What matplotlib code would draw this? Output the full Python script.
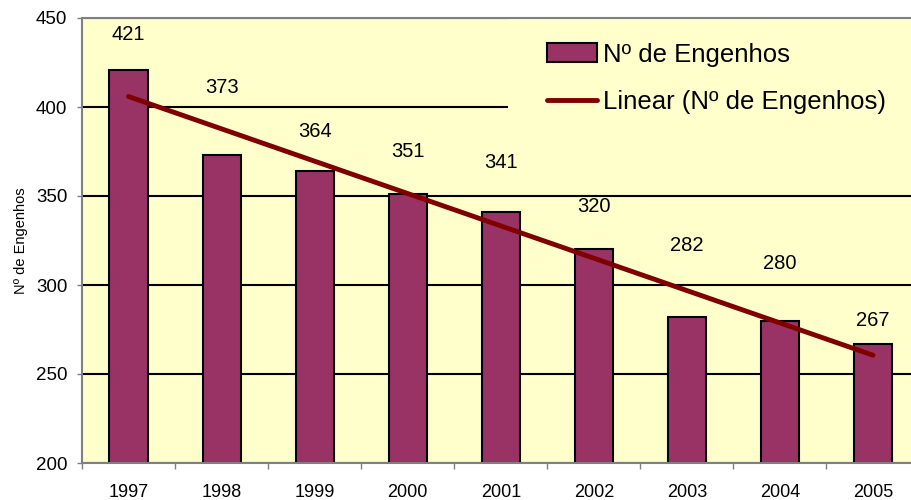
import numpy as np
import matplotlib.pyplot as plt

# Numero de engenhos por ano
years = ['1997', '1998', '1999', '2000', '2001', '2002', '2003', '2004', '2005']
engenhos = [421, 373, 364, 351, 341, 320, 282, 280, 267]

# how far above each bar the value label sits (data units, as in the original)
label_offsets = [20, 38, 22, 24, 28, 24, 40, 32, 13]

plt.rcParams['font.family'] = ['Liberation Sans', 'DejaVu Sans']

fig = plt.figure(figsize=(9.11, 5.0), dpi=100)
# plot area runs a little past the right edge, like the original
ax = fig.add_axes([82 / 911, 37 / 500, 837.5 / 911, 445 / 500])
ax.set_facecolor('#FFFFCC')

x = np.arange(len(years))
bars = ax.bar(x, engenhos, width=0.41, color='#993366', edgecolor='black',
              linewidth=1.5, zorder=2, label='Nº de Engenhos')

# linear trend
w = np.polyfit(x, engenhos, 1)
yhat = np.polyval(w, x)
trend, = ax.plot(x, yhat, color='#800000', linewidth=3.5, zorder=3,
                 solid_capstyle='round', label='Linear (Nº de Engenhos)')

for xi, v, off in zip(x, engenhos, label_offsets):
    ax.text(xi, v + off, str(v), ha='center', va='center', fontsize=14.5, zorder=4)

ax.set_xlim(-0.5, len(years) - 0.5)
ax.set_ylim(200, 450)
ax.set_yticks([200, 250, 300, 350, 400, 450])
ax.set_xticks(x)
ax.set_xticklabels(years)
ax.set_xticks(np.arange(-0.5, len(years)), minor=True)

ax.yaxis.grid(True, color='black', linewidth=1.5)
ax.set_axisbelow(True)

for s in ['top', 'left', 'bottom']:
    ax.spines[s].set_color('#808080')
    ax.spines[s].set_linewidth(1.5)
ax.spines['right'].set_visible(False)

ax.tick_params(axis='y', direction='out', length=3.6, width=1, color='#808080',
               labelsize=13.5, pad=7)
ax.tick_params(axis='x', which='major', length=0, labelsize=13, pad=15)
ax.tick_params(axis='x', which='minor', direction='out', length=4.5, width=1,
               color='#808080')

ax.set_ylabel('Nº de Engenhos', fontsize=10.5)
ax.yaxis.set_label_coords(-0.065, 0.5)

leg = ax.legend([bars, trend], ['Nº de Engenhos', 'Linear (Nº de Engenhos)'],
                loc='upper left', bbox_to_anchor=(508 / 911, 1 - 4 / 500),
                bbox_transform=fig.transFigure, fontsize=18.5, frameon=True,
                facecolor='#FFFFCC', edgecolor='none', framealpha=1,
                fancybox=False, borderpad=1.5, handlelength=1.95,
                handleheight=0.74, handletextpad=0.25, labelspacing=0.9,
                borderaxespad=0)
leg.set_zorder(2.4)
# keep the legend box inside the plot area
leg.get_frame().set_clip_box(ax.bbox)
leg.get_frame().set_clip_on(True)

plt.savefig('out.png', dpi=100)
